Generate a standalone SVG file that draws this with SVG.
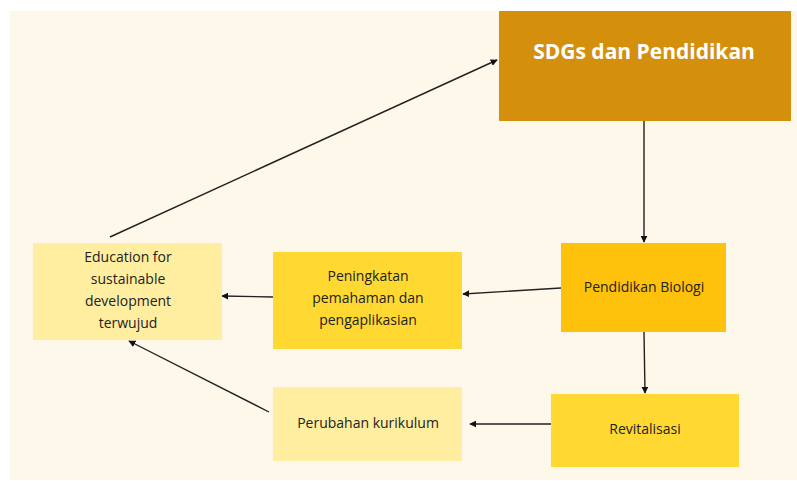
<svg xmlns="http://www.w3.org/2000/svg" width="797" height="481" viewBox="0 0 797 481">
<style>
.lbl{font-family:"Open Sans","Noto Sans","Liberation Sans",sans-serif;font-size:14px;fill:#222;text-anchor:middle}
.title{font-family:"Open Sans","Noto Sans","Liberation Sans",sans-serif;font-size:21px;font-weight:bold;fill:#fff;text-anchor:middle}
.con{stroke:#222;stroke-width:1.4;fill:none;marker-end:url(#ah)}
</style>
<defs>
<marker id="ah" viewBox="0 0 10 10" refX="9" refY="5" markerWidth="7" markerHeight="7" markerUnits="userSpaceOnUse" orient="auto">
<path d="M0,0 L10,5 L0,10 z" fill="#111"/>
</marker>
</defs>
<rect x="0" y="0" width="797" height="481" fill="#ffffff"/>
<rect x="10" y="11" width="787" height="469" fill="#FEF8EB"/>
<g id="connectors">
<line class="con" x1="110" y1="237" x2="497" y2="60"/>
<line class="con" x1="644" y1="121" x2="644" y2="242"/>
<line class="con" x1="561" y1="288" x2="463" y2="294"/>
<line class="con" x1="273" y1="297" x2="222" y2="296"/>
<line class="con" x1="644" y1="332" x2="645" y2="393"/>
<line class="con" x1="551" y1="424" x2="470" y2="424"/>
<line class="con" x1="269" y1="412" x2="129" y2="341"/>
</g>
<g id="sdgs">
<rect x="499" y="11" width="292" height="110" fill="#D4900C"/>
<text class="title" x="644" y="59">SDGs dan Pendidikan</text>
</g>
<g id="biologi">
<rect x="561" y="243" width="165" height="89" fill="#FEC10C"/>
<text class="lbl" x="644" y="292">Pendidikan Biologi</text>
</g>
<g id="peningkatan">
<rect x="273" y="252" width="189" height="97" fill="#FFD832"/>
<text class="lbl" x="368" y="281">Peningkatan</text>
<text class="lbl" x="368" y="303">pemahaman dan</text>
<text class="lbl" x="368" y="325">pengaplikasian</text>
</g>
<g id="education">
<rect x="33" y="243" width="189" height="97" fill="#FFEEA0"/>
<text class="lbl" x="128" y="262">Education for</text>
<text class="lbl" x="128" y="284">sustainable</text>
<text class="lbl" x="128" y="306">development</text>
<text class="lbl" x="128" y="328">terwujud</text>
</g>
<g id="revitalisasi">
<rect x="551" y="394" width="188" height="73" fill="#FFD832"/>
<text class="lbl" x="645" y="434">Revitalisasi</text>
</g>
<g id="perubahan">
<rect x="273" y="387" width="189" height="74" fill="#FFEEA0"/>
<text class="lbl" x="368" y="428">Perubahan kurikulum</text>
</g>
</svg>
